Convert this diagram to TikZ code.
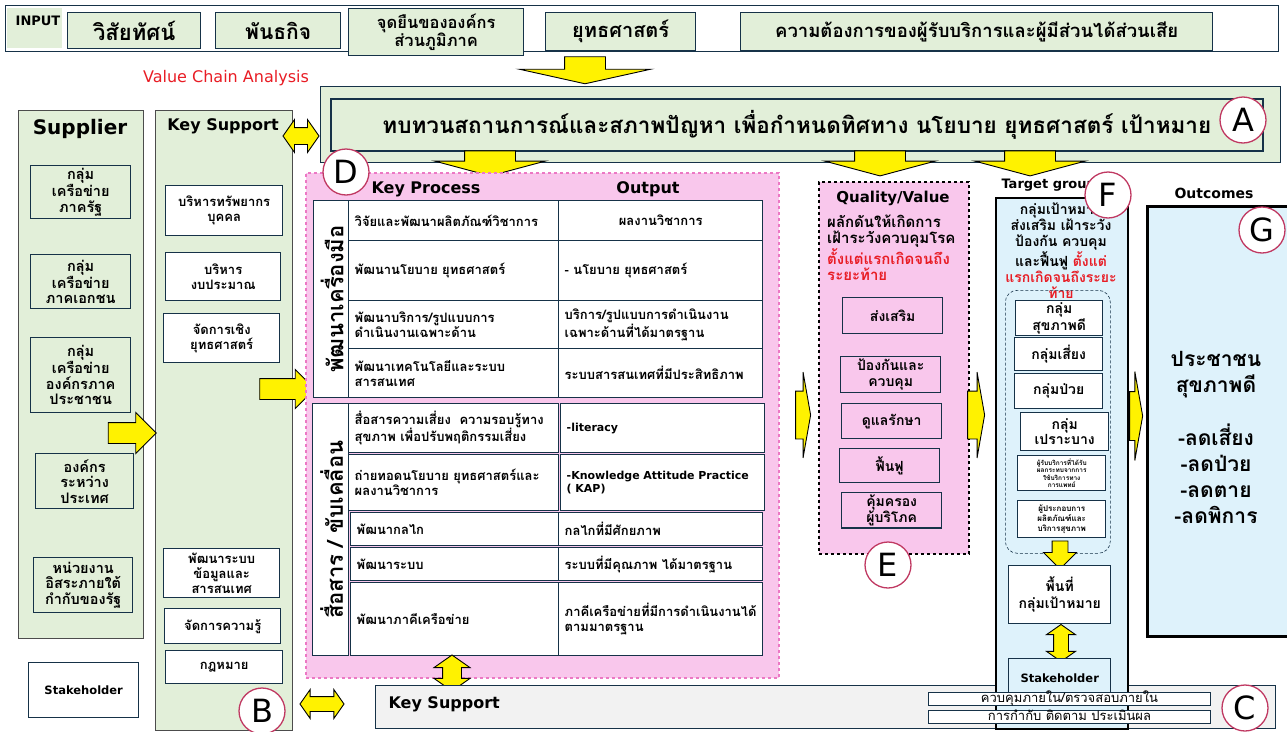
\documentclass[tikz,border=0pt]{standalone}
\usepackage{fontspec}
\setmainfont{Loma}[Script=Thai]
\newfontfamily\lat{DejaVu Sans}
\usetikzlibrary{shapes.arrows}

\definecolor{vertclair}{RGB}{226,239,217}
\definecolor{roseclair}{RGB}{249,199,236}
\definecolor{rosebord}{RGB}{236,120,196}
\definecolor{bleuclair}{RGB}{222,242,251}
\definecolor{grisclair}{RGB}{242,242,242}
\definecolor{marine}{RGB}{22,50,72}
\definecolor{cercle}{RGB}{192,57,98}
\definecolor{rouge}{RGB}{232,28,36}

\tikzstyle{boite}=[draw=marine, line width=1.4pt, anchor=north west, inner sep=2pt, align=center, font=\bfseries\fontsize{13}{15}\selectfont]
\tikzstyle{vert}=[boite, fill=vertclair]
\tikzstyle{blanc}=[boite, fill=white]
\tikzstyle{rose}=[boite, fill=roseclair, font=\bfseries\fontsize{14}{16}\selectfont]
\tikzstyle{zone}=[anchor=north west, inner sep=0pt]
\tikzstyle{titre}=[font=\lat\bfseries\fontsize{16}{16}\selectfont]
\tikzstyle{rond}=[circle, draw=cercle, line width=1.3pt, fill=white, minimum size=46pt, inner sep=0pt, font=\lat\fontsize{32}{32}\selectfont]
\tikzstyle{fleche}=[single arrow, draw=black, fill=yellow, line width=0.9pt, inner xsep=0pt]
\tikzstyle{dfleche}=[double arrow, draw=black, fill=yellow, line width=0.9pt, inner xsep=0pt, double arrow tip angle=110]
\tikzset{
    wh/.style 2 args={minimum width=#1pt, minimum height=#2pt},
    cel/.style={blanc, align=left, inner xsep=6pt, text width=#1pt}
}

\begin{document}
\begin{tikzpicture}[x=1pt, y=-1pt]
    \useasboundingbox (0,0) rectangle (1287,731);

    % input
    \node[zone, draw=marine, line width=1pt, wh={1273}{46}] (entree) at (5,5) {};
    \node[zone, fill=vertclair, wh={55}{40}] (zoneinput) at (7,8) {};
    \node[font=\lat\bfseries\fontsize{13}{13}\selectfont] (input) at (38,21) {INPUT};
    \node[vert, wh={133}{36}, font=\bfseries\fontsize{22}{22}\selectfont] (vision) at (67,12) {วิสัยทัศน์};
    \node[vert, wh={125}{36}, font=\bfseries\fontsize{21}{21}\selectfont] (mission) at (215,12) {พันธกิจ};
    \node[vert, wh={175}{47}, font=\bfseries\fontsize{16.5}{18}\selectfont] (position) at (348,8) {จุดยืนขององค์กร\\ส่วนภูมิภาค};
    \node[vert, wh={150}{38}, font=\bfseries\fontsize{20}{20}\selectfont] (strategie) at (545,12) {ยุทธศาสตร์};
    \node[vert, wh={472}{38}, font=\bfseries\fontsize{18.5}{18.5}\selectfont] (besoins) at (740,12) {ความต้องการของผู้รับบริการและผู้มีส่วนได้ส่วนเสีย};
    \node[fleche, rotate=-90, minimum height=27pt, inner ysep=20pt, single arrow head extend=45pt, single arrow tip angle=155] (f0) at (585,68) {};

    \node[text=rouge, font=\lat\fontsize{16}{16}\selectfont] (vca) at (226,78) {Value Chain Analysis};

    % A
    \node[vert, line width=1pt, wh={960}{76}] (zoneA) at (320,86) {};
    \node[vert, line width=1.6pt, wh={932}{52}, font=\bfseries\fontsize{22.5}{22.5}\selectfont] (revue) at (330,98) {ทบทวนสถานการณ์และสภาพปัญหา เพื่อกำหนดทิศทาง นโยบาย ยุทธศาสตร์ เป้าหมาย};
    \node[rond] (A) at (1243,120) {A};
    \node[fleche, rotate=-90, minimum height=25pt, inner ysep=25pt, single arrow head extend=30pt, single arrow tip angle=150] (fA1) at (490,160) {};
    \node[fleche, rotate=-90, minimum height=25pt, inner ysep=25pt, single arrow head extend=30pt, single arrow tip angle=150] (fA2) at (880,160) {};
    \node[fleche, rotate=-90, minimum height=25pt, inner ysep=25pt, single arrow head extend=30pt, single arrow tip angle=150] (fA3) at (1030,160) {};

    % supplier
    \node[zone, fill=vertclair, draw=black!70, line width=0.8pt, wh={125}{528}] (supplier) at (18,110) {};
    \node[titre, font=\lat\bfseries\fontsize{20}{20}\selectfont] (tsupplier) at (80,129) {Supplier};
    \node[vert, wh={100}{53}, font=\bfseries\fontsize{14.5}{15.5}\selectfont] (s1) at (30,165) {กลุ่ม\\เครือข่าย\\ภาครัฐ};
    \node[vert, wh={100}{54}, font=\bfseries\fontsize{14.5}{15.5}\selectfont] (s2) at (30,254) {กลุ่ม\\เครือข่าย\\ภาคเอกชน};
    \node[vert, wh={100}{75}, font=\bfseries\fontsize{14.5}{15.5}\selectfont] (s3) at (30,337) {กลุ่ม\\เครือข่าย\\องค์กรภาค\\ประชาชน};
    \node[vert, wh={98}{55}, font=\bfseries\fontsize{14.5}{15.5}\selectfont] (s4) at (35,453) {องค์กร\\ระหว่าง\\ประเทศ};
    \node[vert, wh={99}{55}, font=\bfseries\fontsize{14.5}{15.5}\selectfont] (s5) at (33,557) {หน่วยงาน\\อิสระภายใต้\\กำกับของรัฐ};
    \node[blanc, wh={110}{55}, font=\lat\bfseries\fontsize{11.5}{11.5}\selectfont] (parties) at (28,662) {Stakeholder};

    % key support
    \node[zone, fill=vertclair, draw=black!70, line width=0.8pt, wh={137}{620}] (support) at (155,110) {};
    \node[titre] (tsupport) at (223,126) {Key Support};
    \node[blanc, wh={117}{50}] (k1) at (165,185) {บริหารทรัพยากร\\บุคคล};
    \node[blanc, wh={115}{48}] (k2) at (165,252) {บริหาร\\งบประมาณ};
    \node[blanc, wh={116}{49}] (k3) at (163,313) {จัดการเชิง\\ยุทธศาสตร์};
    \node[blanc, wh={116}{49}] (k4) at (163,548) {พัฒนาระบบ\\ข้อมูลและ\\สารสนเทศ};
    \node[blanc, wh={116}{35}] (k5) at (164,608) {จัดการความรู้};
    \node[blanc, wh={117}{33}] (k6) at (165,650) {กฎหมาย};
    \node[rond] (B) at (262,711) {B};
    \node[fleche, minimum height=48pt, inner ysep=10pt, single arrow head extend=10pt] (fS) at (127,433) {};
    \node[dfleche, minimum height=36pt, inner ysep=8pt, double arrow head extend=8pt] (fKA) at (301,136) {};
    \node[dfleche, minimum height=44pt, inner ysep=7pt, double arrow head extend=7pt] (fKC) at (322,704) {};
    \node[fleche, minimum height=55pt, inner ysep=10pt, single arrow head extend=9pt] (fKD) at (282,389) {};

    % D
    \node[zone, fill=roseclair, draw=rosebord, dashed, line width=1.6pt, wh={473}{505}] (zoneD) at (305,172) {};
    \node[titre] (tprocess) at (426,189) {Key Process};
    \node[titre] (toutput) at (648,189) {Output};
    \node[blanc, wh={35}{197}] (g1) at (313,200) {};
    \node[rotate=90, font=\bfseries\fontsize{22}{22}\selectfont] (tg1) at ([xshift=1pt]g1.center) {พัฒนาเครื่องมือ};
    \node[blanc, wh={36}{252}] (g2) at (312,403) {};
    \node[rotate=90, font=\bfseries\fontsize{22}{22}\selectfont] (tg2) at ([xshift=1pt]g2.center) {สื่อสาร / ขับเคลื่อน};

    \node[cel=198, wh={210}{40}] (p1) at (348,200) {วิจัยและพัฒนาผลิตภัณฑ์วิชาการ};
    \node[blanc, wh={204}{40}] (o1) at (558,200) {ผลงานวิชาการ};
    \node[cel=198, wh={210}{60}] (p2) at (348,240) {พัฒนานโยบาย ยุทธศาสตร์};
    \node[cel=192, wh={204}{60}] (o2) at (558,240) {- นโยบาย ยุทธศาสตร์};
    \node[cel=198, wh={210}{48}] (p3) at (348,300) {พัฒนาบริการ/รูปแบบการ\\ดำเนินงานเฉพาะด้าน};
    \node[cel=192, wh={204}{48}] (o3) at (558,300) {บริการ/รูปแบบการดำเนินงาน\\เฉพาะด้านที่ได้มาตรฐาน};
    \node[cel=198, wh={210}{49}] (p4) at (348,348) {พัฒนาเทคโนโลยีและระบบ\\สารสนเทศ};
    \node[cel=192, wh={204}{49}] (o4) at (558,348) {ระบบสารสนเทศที่มีประสิทธิภาพ};
    \node[cel=198, wh={210}{49}] (p5) at (348,403) {สื่อสารความเสี่ยง\ \ ความรอบรู้ทาง\\สุขภาพ เพื่อปรับพฤติกรรมเสี่ยง};
    \node[cel=192, wh={204}{49}, font=\lat\bfseries\fontsize{11}{13}\selectfont] (o5) at (560,403) {-literacy};
    \node[cel=198, wh={210}{56}] (p6) at (348,454) {ถ่ายทอดนโยบาย ยุทธศาสตร์และ\\ผลงานวิชาการ};
    \node[cel=192, wh={204}{56}, font=\lat\bfseries\fontsize{11}{13}\selectfont] (o6) at (560,454) {-Knowledge Attitude Practice\\( KAP)};
    \node[cel=198, wh={210}{33}] (p7) at (350,512) {พัฒนากลไก};
    \node[cel=192, wh={204}{33}] (o7) at (558,512) {กลไกที่มีศักยภาพ};
    \node[cel=198, wh={210}{33}] (p8) at (350,547) {พัฒนาระบบ};
    \node[cel=192, wh={204}{33}] (o8) at (558,547) {ระบบที่มีคุณภาพ ได้มาตรฐาน};
    \node[cel=198, wh={210}{73}] (p9) at (350,582) {พัฒนาภาคีเครือข่าย};
    \node[cel=192, wh={204}{73}] (o9) at (558,582) {ภาคีเครือข่ายที่มีการดำเนินงานได้\\ตามมาตรฐาน};
    \node[rond] (D) at (346,172) {D};
    \node[dfleche, rotate=90, minimum height=36pt, inner ysep=9pt, double arrow head extend=8.5pt] (fDC) at (452,673) {};
    \node[fleche, minimum height=15pt, inner ysep=23.5pt, single arrow head extend=19pt, single arrow tip angle=160] (fDE) at (801,415) {};

    % E
    \node[zone, fill=roseclair, draw=black, dashed, line width=2pt, wh={150}{372}] (zoneE) at (818,181) {};
    \node[titre, font=\lat\bfseries\fontsize{15}{15}\selectfont] (tqualite) at (893,198) {Quality/Value};
    \node[anchor=north west, align=left, inner sep=0pt, font=\bfseries\fontsize{15}{16.2}\selectfont] (tE) at (827,215) {ผลักดันให้เกิดการ\\เฝ้าระวังควบคุมโรค\\\textcolor{rouge}{ตั้งแต่แรกเกิดจนถึง}\\\textcolor{rouge}{ระยะท้าย}};
    \node[rose, wh={100}{36}] (e1) at (842,297) {ส่งเสริม};
    \node[rose, wh={100}{36}] (e2) at (840,356) {ป้องกันและ\\ควบคุม};
    \node[rose, wh={100}{35}] (e3) at (841,403) {ดูแลรักษา};
    \node[rose, wh={100}{34}] (e4) at (839,448) {ฟื้นฟู};
    \node[rose, wh={100}{35}] (e5) at (841,492) {คุ้มครอง\\ผู้บริโภค};
    \node[rond] (E) at (888,565) {E};
    \node[fleche, minimum height=17pt, inner ysep=23.5pt, single arrow head extend=19pt, single arrow tip angle=160] (fEF) at (974,415) {};

    % C
    \node[zone, fill=grisclair, draw=marine, line width=1pt, wh={900}{43}] (zoneC) at (375,685) {};
    \node[titre, anchor=west] (tsupport2) at (385,704) {Key Support};

    % F
    \node[font=\lat\bfseries\fontsize{13}{13}\selectfont, anchor=west] (tcible) at (998,185) {Target group};
    \node[zone, fill=bleuclair, draw=black, line width=2pt, wh={132}{531}] (zoneF) at (995,197) {};
    \node[anchor=north, align=center, inner sep=0pt, font=\bfseries\fontsize{14}{16}\selectfont] (tF) at (1061,203) {กลุ่มเป้าหมาย\\ส่งเสริม เฝ้าระวัง\\ป้องกัน ควบคุม\\และฟื้นฟู \textcolor{rouge}{ตั้งแต่}\\\textcolor{rouge}{แรกเกิดจนถึงระยะ}\\\textcolor{rouge}{ท้าย}};
    \node[zone, draw=marine, densely dashed, rounded corners=12pt, line width=0.6pt, wh={105}{263}] (groupes) at (1005,290) {};
    \node[blanc, wh={87}{32}, font=\bfseries\fontsize{14}{15}\selectfont] (c1) at (1015,300) {กลุ่ม\\สุขภาพดี};
    \node[blanc, wh={88}{33}, font=\bfseries\fontsize{14}{15}\selectfont] (c2) at (1014,337) {กลุ่มเสี่ยง};
    \node[blanc, wh={88}{35}, font=\bfseries\fontsize{14}{15}\selectfont] (c3) at (1014,373) {กลุ่มป่วย};
    \node[blanc, wh={88}{38}, font=\bfseries\fontsize{14}{15}\selectfont] (c4) at (1020,412) {กลุ่ม\\เปราะบาง};
    \node[blanc, wh={88}{35}, font=\bfseries\fontsize{6.5}{7.5}\selectfont] (c5) at (1017,455) {ผู้รับบริการที่ได้รับ\\ผลกระทบจากการ\\ใช้บริการทาง\\การแพทย์};
    \node[blanc, wh={88}{37}, font=\bfseries\fontsize{8}{10}\selectfont] (c6) at (1017,500) {ผู้ประกอบการ\\ผลิตภัณฑ์และ\\บริการสุขภาพ};
    \node[fleche, rotate=-90, minimum height=28pt, inner ysep=7.5pt, single arrow head extend=8.5pt] (fC) at (1060,551) {};
    \node[blanc, wh={102}{58}, font=\bfseries\fontsize{14}{17}\selectfont] (aire) at (1008,565) {พื้นที่\\กลุ่มเป้าหมาย};
    \node[dfleche, rotate=90, minimum height=37pt, inner ysep=7pt, double arrow head extend=7pt] (fAS) at (1061,643) {};
    \node[boite, fill=bleuclair, wh={102}{40}, font=\lat\bfseries\fontsize{11.5}{11.5}\selectfont] (parties2) at (1008,658) {Stakeholder};
    \node[blanc, wh={282}{13}, line width=1pt, inner sep=0pt, text height=9pt, text depth=2pt, font=\fontsize{13}{13}\selectfont] (ci1) at (928,692) {ควบคุมภายใน/ตรวจสอบภายใน};
    \node[blanc, wh={282}{13}, line width=1pt, inner sep=0pt, text height=9pt, text depth=2pt, font=\fontsize{13}{13}\selectfont] (ci2) at (928,710) {การกำกับ ติดตาม ประเมินผล};
    \node[rond] (C) at (1245,708) {C};
    \node[rond] (F) at (1108,195) {F};
    \node[fleche, minimum height=13pt, inner ysep=24pt, single arrow head extend=20pt, single arrow tip angle=160] (fFG) at (1134,416) {};

    % G
    \node[font=\lat\bfseries\fontsize{14}{14}\selectfont] (tresultat) at (1214,193) {Outcomes};
    \node[zone, fill=bleuclair, draw=black, line width=2.5pt, wh={145}{430}] (zoneG) at (1146,205) {};
    \node[align=center, font=\bfseries\fontsize{21}{26}\selectfont] (tG) at (1216,437) {ประชาชน\\สุขภาพดี\\[25pt]-ลดเสี่ยง\\-ลดป่วย\\-ลดตาย\\-ลดพิการ};
    \node[rond] (G) at (1262,230) {G};

\end{tikzpicture}
\end{document}
